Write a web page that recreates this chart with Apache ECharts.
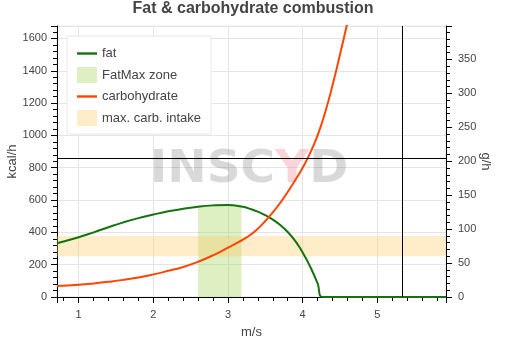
<!DOCTYPE html>
<html>
<head>
<meta charset="utf-8">
<script src="https://cdn.jsdelivr.net/npm/echarts@6/dist/echarts.min.js"></script>
<style>html,body{margin:0;padding:0;background:#fff}#c{width:506px;height:343px}</style>
</head>
<body>
<div id="c"></div>
<script>
// ---- data ----
const fatSpeed = [0.71, 1.0, 1.2, 1.4, 1.6, 1.8, 2.0, 2.2, 2.4, 2.6, 2.8, 3.0, 3.1, 3.2, 3.3, 3.4, 3.5, 3.6, 3.7, 3.8, 3.9, 4.0, 4.1, 4.2, 4.27, 4.6, 5.0, 5.5, 5.92];
const fatKcal  = [333, 370, 400, 432, 462, 488, 510, 530, 546, 559, 567, 570, 566, 558, 545, 528, 506, 479, 445, 402, 347, 276, 189, 84, 0, 0, 0, 0, 0];
const carbSpeed = [0.71, 1.0, 1.2, 1.4, 1.6, 1.8, 2.0, 2.2, 2.4, 2.6, 2.8, 3.0, 3.1, 3.2, 3.3, 3.4, 3.5, 3.6, 3.7, 3.8, 3.9, 4.0, 4.1, 4.2, 4.3, 4.4, 4.5, 4.6, 4.7];
const carbKcal  = [68, 76, 84, 94, 106, 121, 140, 162, 186, 218, 258, 305, 329, 355, 385, 423, 470, 523, 583, 650, 722, 800, 890, 1000, 1140, 1310, 1500, 1700, 1910];
const fatMaxZone = [2.6, 3.18];      // m/s
const fatMaxTop = 570;               // kcal/h
const carbIntakeBand = [60, 90];     // g/h
const markerSpeed = 5.335;           // m/s (vertical line)
const markerKcal = 860;              // kcal/h (horizontal line)
const kcalMax = 1677;
const kcalPerGram = 4.2;

const zoneColor = 'rgba(160,210,80,0.35)';
const bandColor = 'rgba(255,200,100,0.35)';
const fatColor = '#16720f';
const carbColor = '#ff4500';
const txt = '#444';
const font = 'Liberation Sans, Arial, Helvetica, sans-serif';
const lineIcon = 'path://M0,0 L20,0 L20,2.4 L0,2.4 Z';

const chart = echarts.init(document.getElementById('c'), null, {renderer: 'canvas'});
function axisBase(extra) {
  return Object.assign({
    nameMoveOverlap: false,
    axisLine: {show: true, onZero: false, lineStyle: {color: '#000', width: 1}},
    axisTick: {show: true, length: 6, lineStyle: {color: '#000'}},
    minorTick: {show: true, splitNumber: 5, length: 4, lineStyle: {color: '#000'}},
    nameTextStyle: {color: txt, fontSize: 13, fontFamily: font}
  }, extra);
}
function labelBase(extra) {
  return Object.assign({color: txt, fontSize: 11, fontFamily: font, showMinLabel: true, showMaxLabel: false,
    formatter: v => String(Math.round(v * 100) / 100)}, extra);
}
chart.setOption({
  animation: false,
  textStyle: {fontFamily: font},
  title: {
    text: 'Fat & carbohydrate combustion', left: 'center', top: 1, padding: 0,
    textStyle: {fontSize: 16, fontWeight: 'bold', color: txt, fontFamily: font}
  },
  graphic: [{
    type: 'text', x: 249, y: 171, z: 1, silent: true, scaleX: 1.07,
    style: {
      text: '{g|INSC}{r|Y}{g|D}',
      align: 'center', verticalAlign: 'middle',
      font: 'bold 44px DejaVu Sans',
      rich: {
        g: {fill: 'rgba(0,0,0,0.15)', font: 'bold 44px DejaVu Sans'},
        r: {fill: 'rgba(230,60,80,0.22)', font: 'bold 44px DejaVu Sans'}
      }
    }
  }],
  legend: {
    orient: 'vertical', left: 67, top: 36,
    padding: [11, 10, 8, 10], itemGap: 7, itemWidth: 20, itemHeight: 16, itemTextGap: 6,
    backgroundColor: '#fff', borderColor: '#e8e8e8', borderWidth: 1, borderRadius: 0,
    textStyle: {color: txt, fontSize: 13, fontFamily: font},
    data: [
      {name: 'fat', icon: lineIcon, itemStyle: {color: fatColor}},
      {name: 'FatMax zone', icon: 'rect', itemStyle: {color: zoneColor}},
      {name: 'carbohydrate', icon: lineIcon, itemStyle: {color: carbColor}},
      {name: 'max. carb. intake', icon: 'rect', itemStyle: {color: bandColor}}
    ]
  },
  grid: {left: 57, right: 60, top: 26, bottom: 46, outerBoundsMode: 'none', containLabel: false,
    show: true, borderColor: '#e5e5e5', borderWidth: 1, backgroundColor: 'transparent'},
  xAxis: axisBase({
    type: 'value', min: 0.71, max: 5.92, splitNumber: 5,
    name: 'm/s', nameLocation: 'middle', nameGap: 29,
    axisLabel: labelBase({margin: 12, showMinLabel: false}),
    splitLine: {show: true, lineStyle: {color: '#e5e5e5'}}
  }),
  yAxis: [
    axisBase({
      type: 'value', min: 0, max: kcalMax, splitNumber: 8, position: 'left',
      name: 'kcal/h', nameLocation: 'middle', nameGap: 38,
      axisLabel: labelBase({margin: 10}),
      splitLine: {show: true, lineStyle: {color: '#e5e5e5'}}
    }),
    axisBase({
      type: 'value', min: 0, max: kcalMax / kcalPerGram, splitNumber: 8, position: 'right',
      name: 'g/h', nameLocation: 'middle', nameGap: 33, nameRotate: -90,
      axisLabel: labelBase({margin: 12}),
      splitLine: {show: false}
    })
  ],
  series: [
    {
      name: 'FatMax zone', type: 'line', data: [], color: zoneColor, z: 1,
      markArea: {silent: true, itemStyle: {color: zoneColor}, label: {show: false},
        data: [[{xAxis: fatMaxZone[0], yAxis: 0}, {xAxis: fatMaxZone[1], yAxis: fatMaxTop}]]}
    },
    {
      name: 'max. carb. intake', type: 'line', data: [], yAxisIndex: 1, color: bandColor, z: 1,
      markArea: {silent: true, itemStyle: {color: bandColor}, label: {show: false},
        data: [[{yAxis: carbIntakeBand[0]}, {yAxis: carbIntakeBand[1]}]]}
    },
    {
      name: 'fat', type: 'line', smooth: 0.5, symbol: 'none', color: fatColor, z: 3,
      lineStyle: {width: 2, color: fatColor},
      data: fatSpeed.map((s, i) => [s, fatKcal[i]])
    },
    {
      name: 'carbohydrate', type: 'line', smooth: 0.5, symbol: 'none', color: carbColor, z: 3,
      lineStyle: {width: 2, color: carbColor},
      data: carbSpeed.map((s, i) => [s, carbKcal[i]]),
      markLine: {silent: true, symbol: ['none', 'none'], label: {show: false},
        lineStyle: {color: '#000', width: 1, type: 'solid'},
        data: [{xAxis: markerSpeed}, {yAxis: markerKcal}]}
    }
  ]
});
</script>
</body>
</html>
